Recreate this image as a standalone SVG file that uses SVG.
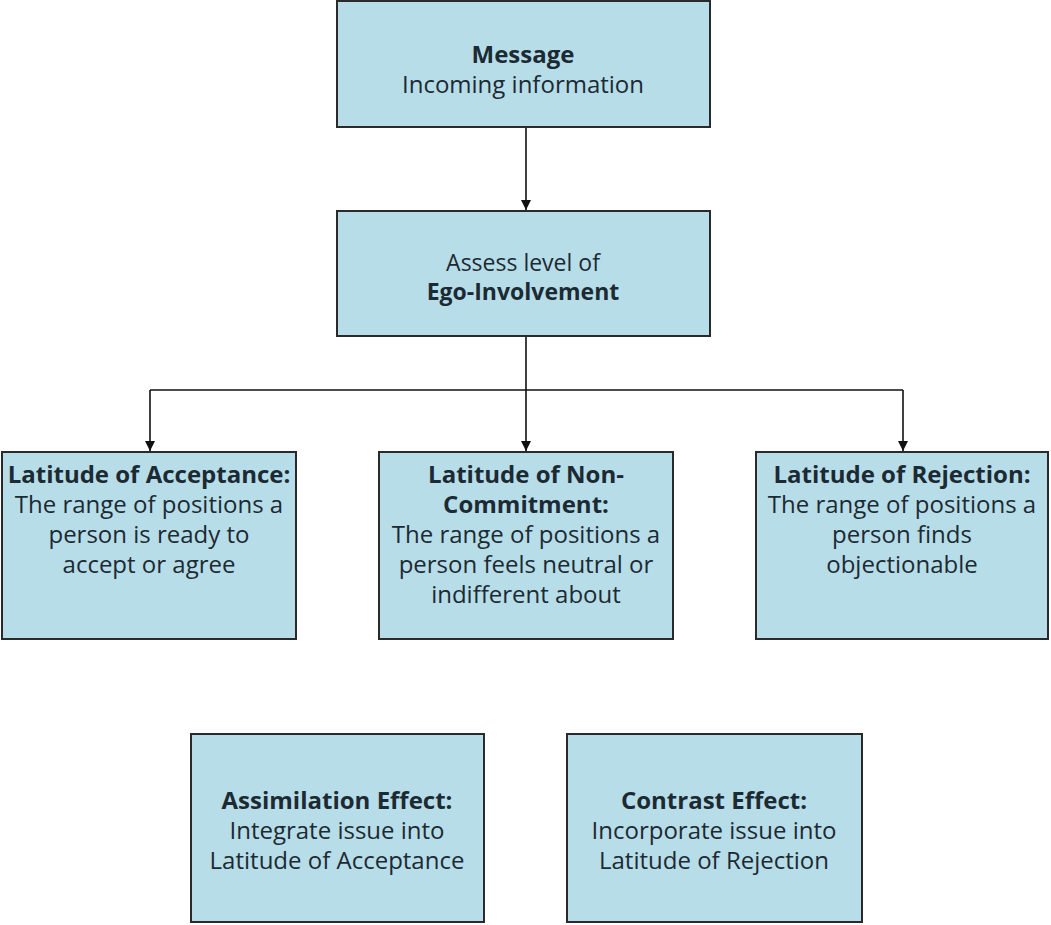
<svg xmlns="http://www.w3.org/2000/svg" width="1051" height="925" viewBox="0 0 1051 925">
<defs>
<marker id="arr" markerWidth="12" markerHeight="12" refX="10" refY="5" orient="auto" markerUnits="userSpaceOnUse">
<path d="M0,0 L10,5 L0,10 Z" fill="#111"/>
</marker>
</defs>
<style>
.box{fill:#b7dde8;stroke:#2a2a2a;stroke-width:2}
.t{font-family:"Open Sans","Noto Sans",sans-serif;fill:#1c2a33;text-anchor:middle}
.s{font-size:23px}
.m{font-size:24px}
.b{font-weight:bold}
.c{fill:none;stroke:#111;stroke-width:1.6}
</style>
<rect width="1051" height="925" fill="#fff"/>
<g id="connectors">
<line class="c" x1="526" y1="127" x2="526" y2="210" marker-end="url(#arr)"/>
<line class="c" x1="526" y1="336" x2="526" y2="390"/>
<line class="c" x1="150" y1="390" x2="903" y2="390"/>
<line class="c" x1="150" y1="390" x2="150" y2="451" marker-end="url(#arr)"/>
<line class="c" x1="526" y1="390" x2="526" y2="451" marker-end="url(#arr)"/>
<line class="c" x1="903" y1="390" x2="903" y2="451" marker-end="url(#arr)"/>
</g>
<g id="message">
<rect class="box" x="337" y="1" width="373" height="126"/>
<text class="t m b" x="523" y="63">Message</text>
<text class="t m" x="523" y="93">Incoming information</text>
</g>
<g id="ego">
<rect class="box" x="337" y="211" width="373" height="125"/>
<text class="t s" x="523" y="271">Assess level of</text>
<text class="t s b" x="523" y="300">Ego-Involvement</text>
</g>
<g id="acceptance">
<rect class="box" x="2" y="452" width="294" height="187"/>
<text class="t m b" x="149" y="483">Latitude of Acceptance:</text>
<text class="t m" x="149" y="513">The range of positions a</text>
<text class="t m" x="149" y="543">person is ready to</text>
<text class="t m" x="149" y="573">accept or agree</text>
</g>
<g id="noncommitment">
<rect class="box" x="379" y="452" width="294" height="187"/>
<text class="t m b" x="526" y="483">Latitude of Non-</text>
<text class="t m b" x="526" y="513">Commitment:</text>
<text class="t m" x="526" y="543">The range of positions a</text>
<text class="t m" x="526" y="573">person feels neutral or</text>
<text class="t m" x="526" y="603">indifferent about</text>
</g>
<g id="rejection">
<rect class="box" x="756" y="452" width="292" height="187"/>
<text class="t m b" x="902" y="483">Latitude of Rejection:</text>
<text class="t m" x="902" y="513">The range of positions a</text>
<text class="t m" x="902" y="543">person finds</text>
<text class="t m" x="902" y="573">objectionable</text>
</g>
<g id="assimilation">
<rect class="box" x="191" y="734" width="293" height="188"/>
<text class="t m b" x="337" y="809">Assimilation Effect:</text>
<text class="t m" x="337" y="839">Integrate issue into</text>
<text class="t m" x="337" y="869">Latitude of Acceptance</text>
</g>
<g id="contrast">
<rect class="box" x="567" y="734" width="295" height="188"/>
<text class="t m b" x="714" y="809">Contrast Effect:</text>
<text class="t m" x="714" y="839">Incorporate issue into</text>
<text class="t m" x="714" y="869">Latitude of Rejection</text>
</g>
</svg>
